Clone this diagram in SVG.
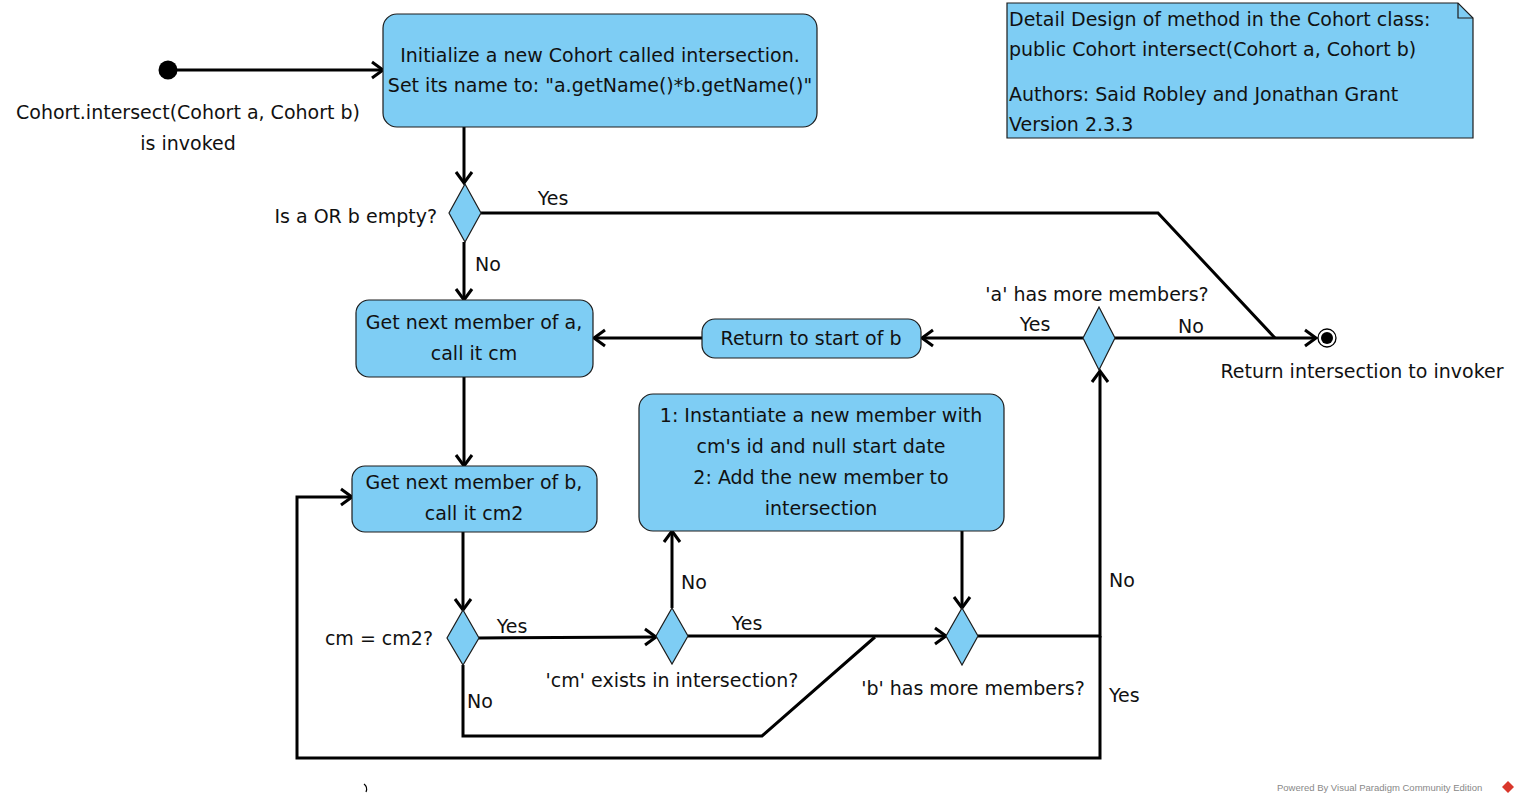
<svg xmlns="http://www.w3.org/2000/svg" width="1521" height="804" viewBox="0 0 1521 804">
<defs>
<marker id="arr" markerUnits="userSpaceOnUse" markerWidth="24" markerHeight="24" viewBox="-14 -12 24 24" refX="0" refY="0" orient="auto">
<path d="M-11,-8 L0,0 L-11,8" fill="none" stroke="#000" stroke-width="3"/>
</marker>
</defs>
<style>
.box{fill:#7ecdf4;stroke:#1c1c1c;stroke-width:1.2}
.dia{fill:#7ecdf4;stroke:#1c1c1c;stroke-width:1.2}
.c{fill:none;stroke:#000;stroke-width:3;stroke-linejoin:miter}
.t{font-family:"DejaVu Sans",sans-serif;font-size:19px;fill:#111}
.m{text-anchor:middle}
.e{text-anchor:end}
.wm{font-family:"Liberation Sans",Arial,sans-serif;font-size:9.5px;fill:#888}
</style>
<rect width="1521" height="804" fill="#fff"/>
<g id="connectors">
<path class="c" d="M177,70 L383,70" marker-end="url(#arr)"/>
<path class="c" d="M464,127 L464,183" marker-end="url(#arr)"/>
<path class="c" d="M481,213 L1158,213 L1275,338"/>
<path class="c" d="M1115,338 L1316,338" marker-end="url(#arr)"/>
<path class="c" d="M464,242 L464,300" marker-end="url(#arr)"/>
<path class="c" d="M702,338 L594,338" marker-end="url(#arr)"/>
<path class="c" d="M1083,338 L922,338" marker-end="url(#arr)"/>
<path class="c" d="M464,377 L464,466" marker-end="url(#arr)"/>
<path class="c" d="M463,532 L463,610" marker-end="url(#arr)"/>
<path class="c" d="M479,638 L656,637" marker-end="url(#arr)"/>
<path class="c" d="M672,608 L672,531" marker-end="url(#arr)"/>
<path class="c" d="M688,636 L946,636" marker-end="url(#arr)"/>
<path class="c" d="M962,531 L962,608" marker-end="url(#arr)"/>
<path class="c" d="M463,665 L463,736 L762,736 L875,637"/>
<path class="c" d="M978,636 L1100,636 L1100,371" marker-end="url(#arr)"/>
<path class="c" d="M1100,636 L1100,758 L297,758 L297,497 L352,497" marker-end="url(#arr)"/>
</g>
<g id="start">
<circle cx="168" cy="70" r="9.5" fill="#000"/>
<text class="t m" x="188" y="119">Cohort.intersect(Cohort a, Cohort b)</text>
<text class="t m" x="188" y="150">is invoked</text>
</g>
<g id="init">
<rect class="box" x="383" y="14" width="434" height="113" rx="14"/>
<text class="t m" x="600" y="62">Initialize a new Cohort called intersection.</text>
<text class="t m" x="600" y="92">Set its name to: "a.getName()*b.getName()"</text>
</g>
<g id="d-empty">
<path class="dia" d="M465,184 L481,213 L465,242 L449,213 Z"/>
<text class="t e" x="437" y="223">Is a OR b empty?</text>
<text class="t m" x="553" y="205">Yes</text>
<text class="t" x="475" y="271">No</text>
</g>
<g id="next-a">
<rect class="box" x="356" y="300" width="237" height="77" rx="13"/>
<text class="t m" x="474" y="329">Get next member of a,</text>
<text class="t m" x="474" y="360">call it cm</text>
</g>
<g id="return-b">
<rect class="box" x="702" y="319" width="219" height="39" rx="13"/>
<text class="t m" x="811" y="345">Return to start of b</text>
</g>
<g id="d-a-more">
<path class="dia" d="M1099,307 L1115,338 L1099,370 L1083,338 Z"/>
<text class="t m" x="1097" y="301">'a' has more members?</text>
<text class="t m" x="1035" y="331">Yes</text>
<text class="t m" x="1191" y="333">No</text>
</g>
<g id="final">
<circle cx="1327" cy="338" r="9" fill="#fff" stroke="#000" stroke-width="1.3"/>
<circle cx="1327" cy="338" r="6" fill="#000"/>
<text class="t m" x="1362" y="378">Return intersection to invoker</text>
</g>
<g id="next-b">
<rect class="box" x="352" y="466" width="245" height="66" rx="13"/>
<text class="t m" x="474" y="489">Get next member of b,</text>
<text class="t m" x="474" y="520">call it cm2</text>
</g>
<g id="add-member">
<rect class="box" x="639" y="394" width="365" height="137" rx="14"/>
<text class="t m" x="821" y="422">1: Instantiate a new member with</text>
<text class="t m" x="821" y="453">cm's id and null start date</text>
<text class="t m" x="821" y="484">2: Add the new member to</text>
<text class="t m" x="821" y="515">intersection</text>
</g>
<g id="d-eq">
<path class="dia" d="M463,610 L479,638 L463,665 L447,638 Z"/>
<text class="t e" x="433" y="645">cm = cm2?</text>
<text class="t m" x="512" y="633">Yes</text>
<text class="t" x="467" y="708">No</text>
</g>
<g id="d-exists">
<path class="dia" d="M672,608 L688,636 L672,664 L656,636 Z"/>
<text class="t m" x="672" y="687">'cm' exists in intersection?</text>
<text class="t" x="681" y="589">No</text>
<text class="t m" x="747" y="630">Yes</text>
</g>
<g id="d-b-more">
<path class="dia" d="M962,608 L978,636 L962,665 L946,636 Z"/>
<text class="t m" x="973" y="695">'b' has more members?</text>
<text class="t" x="1109" y="587">No</text>
<text class="t" x="1109" y="702">Yes</text>
</g>
<g id="note">
<path class="box" d="M1007,3 L1458,3 L1473,18 L1473,138 L1007,138 Z"/>
<path d="M1458,3 L1458,18 L1473,18" fill="none" stroke="#1c1c1c" stroke-width="1.2"/>
<text class="t" x="1009" y="26">Detail Design of method in the Cohort class:</text>
<text class="t" x="1009" y="56">public Cohort intersect(Cohort a, Cohort b)</text>
<text class="t" x="1009" y="101">Authors: Said Robley and Jonathan Grant</text>
<text class="t" x="1009" y="131">Version 2.3.3</text>
</g>
<g id="watermark">
<path d="M364,784 q4,3 2,8" fill="none" stroke="#000" stroke-width="1.2"/>
<text class="wm" x="1277" y="791">Powered By Visual Paradigm Community Edition</text>
<path d="M1508,781 L1514,787 L1508,793 L1502,787 Z" fill="#d9372b"/>
</g>
</svg>
